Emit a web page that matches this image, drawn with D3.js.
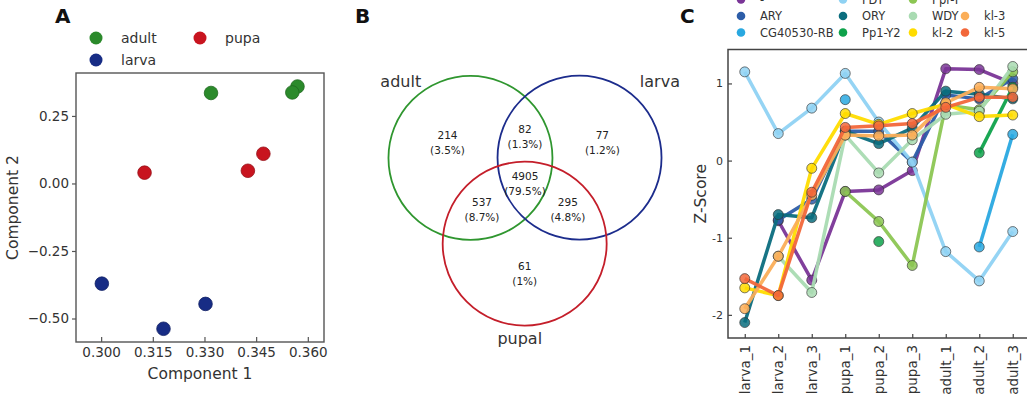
<!DOCTYPE html>
<html>
<head>
<meta charset="utf-8">
<script src="https://cdn.jsdelivr.net/npm/d3@7"></script>
<style>
	body { margin: 0; background: #fff; }
	svg { font-family: 'DejaVu Sans', sans-serif; }
</style>
</head>
<body>
<script>
// ---- Panel A data (PCA)
const pcaGroups = ['adult', 'larva', 'pupa']
const pcaColors = ['#2b8a2b', '#172c85', '#c8141f']
const pcaGroup = ['adult', 'adult', 'adult', 'pupa', 'pupa', 'pupa', 'larva', 'larva', 'larva']
const pcaX = [0.3319, 0.357, 0.3555, 0.3126, 0.3426, 0.3471, 0.3002, 0.3181, 0.3303]
const pcaY = [0.335, 0.359, 0.337, 0.04, 0.047, 0.11, -0.371, -0.538, -0.446]
const pcaXTicks = [0.3, 0.315, 0.33, 0.345, 0.36]
const pcaYTicks = [-0.5, -0.25, 0, 0.25]

// ---- Panel B data (Venn)
const vennSets = ['adult', 'larva', 'pupal']
const vennColors = ['#2f962f', '#1c2c8c', '#c41e2a']
const vennRegions = [[1, 0, 0], [1, 1, 0], [0, 1, 0], [1, 1, 1], [1, 0, 1], [0, 1, 1], [0, 0, 1]]
const vennCounts = [214, 82, 77, 4905, 537, 295, 61]
const vennPercents = ['3.5%', '1.3%', '1.2%', '79.5%', '8.7%', '4.8%', '1%']

// ---- Panel C data (Z-scores)
const stages = ['larva_1', 'larva_2', 'larva_3', 'pupa_1', 'pupa_2', 'pupa_3', 'adult_1', 'adult_2', 'adult_3']
const genes = ['-', 'ARY', 'CG40530-RB', 'FDY', 'ORY', 'Pp1-Y2', 'Ppr-Y', 'WDY', 'kl-2', 'kl-3', 'kl-5']
const geneColors = ['#7a3597', '#2c5da8', '#29a8e0', '#8fd2f3', '#0b6d7e', '#0ea24b', '#8cc653', '#a9dbb2', '#ffdc00', '#fbae58', '#f2673a']
const zDash = [null, -0.78, -1.55, -0.4, -0.38, -0.13, 1.19, 1.18, 1.0]
const zARY = [null, -0.77, -0.5, 0.38, 0.38, -0.02, 0.85, 0.8, 1.06]
const zCG40530 = [null, null, null, 0.79, null, null, null, -1.12, 0.34]
const zFDY = [1.15, 0.35, 0.68, 1.13, 0.5, -0.02, -1.18, -1.56, -0.92]
const zORY = [-2.1, -0.7, -0.74, 0.38, 0.22, 0.42, 0.9, 0.86, 0.8]
const zPp1Y2 = [null, null, null, null, -1.05, null, null, 0.1, 0.95]
const zPprY = [null, null, null, -0.4, -0.79, -1.36, 0.72, 0.66, 1.15]
const zWDY = [null, -1.24, -1.71, 0.33, -0.16, 0.27, 0.6, 0.64, 1.22]
const zKl2 = [-1.65, -1.75, -0.1, 0.61, 0.47, 0.61, 0.73, 0.57, 0.59]
const zKl3 = [-1.92, -1.24, -0.45, 0.33, 0.32, 0.33, 0.75, 0.95, 0.93]
const zKl5 = [-1.53, -1.75, -0.41, 0.43, 0.45, 0.48, 0.69, 0.82, 0.82]
const geneValues = [zDash, zARY, zCG40530, zFDY, zORY, zPp1Y2, zPprY, zWDY, zKl2, zKl3, zKl5]
const zTicks = [-2, -1, 0, 1]

const svg = d3.select('body').append('svg').attr('width', 1027).attr('height', 405)

// panel letters
svg.selectAll('text.letter')
	.data([['A', 55], ['B', 355], ['C', 680]])
	.join('text')
	.attr('x', d => d[1]).attr('y', 23)
	.style('font-size', '20px').style('font-weight', 'bold').style('fill', '#111')
	.text(d => d[0])

/////////////////////////
// Panel A
const a = { left: 76, top: 73, right: 324, bottom: 342 }
const xA = d3.scaleLinear().domain([0.2927, 0.3647]).range([a.left, a.right])
const yA = d3.scaleLinear().domain([-0.587, 0.409]).range([a.bottom, a.top])
const colA = d3.scaleOrdinal().domain(pcaGroups).range(pcaColors)

const gA = svg.append('g')
gA.append('g')
	.attr('transform', `translate(0,${a.bottom})`)
	.call(d3.axisBottom(xA).tickValues(pcaXTicks).tickFormat(d3.format('.3f')).tickSizeInner(-5).tickSizeOuter(0).tickPadding(5))
gA.append('g')
	.attr('transform', `translate(${a.left},0)`)
	.call(d3.axisLeft(yA).tickValues(pcaYTicks).tickFormat(d3.format('.2f')).tickSizeInner(4).tickSizeOuter(0).tickPadding(3))
gA.selectAll('.domain').remove()
gA.selectAll('.tick line').attr('stroke', '#555').attr('stroke-width', 1.2)
gA.selectAll('.tick text').style('font-size', '13.5px').style('font-family', 'DejaVu Sans').attr('fill', '#333')
gA.append('rect')
	.attr('x', a.left).attr('y', a.top)
	.attr('width', a.right - a.left).attr('height', a.bottom - a.top)
	.attr('fill', 'none').attr('stroke', '#555').attr('stroke-width', 1.4)

gA.selectAll('circle.pt')
	.data(pcaX.map((x, i) => ({ x, y: pcaY[i], g: pcaGroup[i] })))
	.join('circle')
	.attr('cx', d => xA(d.x)).attr('cy', d => yA(d.y)).attr('r', 6.8)
	.attr('fill', d => colA(d.g))
	.attr('stroke', d => d3.color(colA(d.g)).darker(0.8)).attr('stroke-width', 0.8)

gA.append('text')
	.attr('x', (a.left + a.right) / 2).attr('y', 379)
	.attr('text-anchor', 'middle').style('font-size', '15.5px').attr('fill', '#333')
	.text('Component 1')
gA.append('text')
	.attr('transform', `translate(18,${(a.top + a.bottom) / 2}) rotate(-90)`)
	.attr('text-anchor', 'middle').style('font-size', '15.5px').attr('fill', '#333')
	.text('Component 2')

// legend A: two columns, column-first order
const legA = gA.selectAll('g.leg')
	.data(['adult', 'larva', 'pupa'])
	.join('g')
	.attr('transform', (d, i) => `translate(${96 + Math.floor(i / 2) * 104},${38 + (i % 2) * 22})`)
legA.append('circle').attr('r', 6.5).attr('fill', d => colA(d))
legA.append('text').attr('x', 25).attr('dy', '0.35em').style('font-size', '14px').attr('fill', '#333').text(d => d)

/////////////////////////
// Panel B (Venn)
const vennCenters = [[-0.665, -0.348], [0.665, -0.352], [-0.004, 0.697]]
const vennLabelPos = [[-0.85, -0.93], [0.98, -0.93], [-0.06, 1.15]]
const ux = d3.scaleLinear().domain([-1, 1]).range([443, 607])
const uy = d3.scaleLinear().domain([-1, 1]).range([104.5, 268.5])
const gB = svg.append('g')

gB.selectAll('circle')
	.data(vennSets)
	.join('circle')
	.attr('cx', (d, i) => ux(vennCenters[i][0])).attr('cy', (d, i) => uy(vennCenters[i][1]))
	.attr('r', ux(1) - ux(0))
	.attr('fill', 'none').attr('stroke', (d, i) => vennColors[i]).attr('stroke-width', 1.8)

gB.selectAll('text.set')
	.data(vennSets)
	.join('text')
	.attr('x', (d, i) => ux(vennCenters[i][0] + vennLabelPos[i][0]))
	.attr('y', (d, i) => uy(vennCenters[i][1] + vennLabelPos[i][1]))
	.attr('dy', '0.35em').attr('text-anchor', 'middle')
	.style('font-size', '16px').attr('fill', '#333')
	.text(d => d)

// region label = centroid of sampled points inside that region
function regionCentroid(mask) {
	let sx = 0, sy = 0, n = 0
	for (let u = -2; u <= 2; u += 0.02) {
		for (let v = -2; v <= 2; v += 0.02) {
			const inside = vennCenters.map(c => ((u - c[0]) ** 2 + (v - c[1]) ** 2 <= 1 ? 1 : 0))
			if (inside.every((m, k) => m === mask[k])) { sx += u; sy += v; n++ }
		}
	}
	return [sx / n, sy / n]
}
const regionLabels = gB.selectAll('g.region')
	.data(vennRegions.map((m, i) => ({ c: regionCentroid(m), n: vennCounts[i], p: vennPercents[i] })))
	.join('g')
	.attr('transform', d => `translate(${ux(d.c[0])},${uy(d.c[1])})`)
regionLabels.append('text').attr('y', -4).attr('text-anchor', 'middle').style('font-size', '10.5px').attr('fill', '#222').text(d => d.n)
regionLabels.append('text').attr('y', 11).attr('text-anchor', 'middle').style('font-size', '10.5px').attr('fill', '#222').text(d => `(${d.p})`)

/////////////////////////
// Panel C
const c = { left: 728, top: 49.5, right: 1029.5, bottom: 338 }
const xC = d3.scalePoint().domain(stages).range([c.left, c.right]).padding(0.5)
const yC = d3.scaleLinear().domain([-2.3, 1.44]).range([c.bottom, c.top])
const gC = svg.append('g')

gC.append('g')
	.attr('transform', `translate(0,${c.bottom})`)
	.call(d3.axisBottom(xC).tickSizeInner(-4).tickSizeOuter(0))
	.selectAll('.tick text')
	.attr('transform', 'rotate(-90)')
	.attr('x', -7).attr('y', 0).attr('dy', '0.35em')
	.style('text-anchor', 'end')
gC.append('g')
	.attr('transform', `translate(${c.left},0)`)
	.call(d3.axisLeft(yC).tickValues(zTicks).tickFormat(d => (d < 0 ? '-' + -d : d)).tickSizeInner(-4).tickSizeOuter(0).tickPadding(5))
gC.selectAll('.domain').remove()
gC.selectAll('.tick line').attr('stroke', '#444').attr('stroke-width', 1.2)
gC.selectAll('.tick text').style('font-family', 'DejaVu Sans').attr('fill', '#333')
gC.selectAll('g.tick text').filter(function () { return this.getAttribute('transform') }).style('font-size', '13.5px')
gC.selectAll('g.tick text').filter(function () { return !this.getAttribute('transform') }).style('font-size', '11px')
gC.append('rect')
	.attr('x', c.left).attr('y', c.top)
	.attr('width', c.right - c.left).attr('height', c.bottom - c.top)
	.attr('fill', 'none').attr('stroke', '#444').attr('stroke-width', 1.5)

gC.append('text')
	.attr('transform', `translate(706,${(c.top + c.bottom) / 2}) rotate(-90)`)
	.attr('text-anchor', 'middle').style('font-size', '15.5px').attr('fill', '#333')
	.text('Z-Score')

const line = d3.line()
	.defined(d => d.v != null)
	.x(d => xC(d.s))
	.y(d => yC(d.v))

const series = genes.map((g, i) => ({
	name: g,
	color: geneColors[i],
	pts: stages.map((s, j) => ({ s, v: geneValues[i][j] }))
}))

const sg = gC.selectAll('g.series').data(series).join('g')
sg.append('path')
	.attr('d', d => line(d.pts))
	.attr('fill', 'none').attr('stroke', d => d.color)
	.attr('stroke-width', 3.5).attr('stroke-linejoin', 'round').attr('stroke-opacity', 0.95)
sg.selectAll('circle')
	.data(d => d.pts.filter(p => p.v != null).map(p => ({ ...p, color: d.color })))
	.join('circle')
	.attr('cx', d => xC(d.s)).attr('cy', d => yC(d.v)).attr('r', 5)
	.attr('fill', d => d.color).attr('fill-opacity', 0.85)
	.attr('stroke', '#333').attr('stroke-width', 0.8).attr('stroke-opacity', 0.8)

// legend C: 4 columns, filled column-first, short last column bottom-aligned
const legColX = [741, 843, 913, 965]
const legRowY = [-0.5, 16, 32.5]
const legC = gC.selectAll('g.leg')
	.data(genes)
	.join('g')
	.attr('transform', (d, i) => {
		const col = Math.min(Math.floor(i / 3), 3)
		const row = col < 3 ? i % 3 : i - 9 + 1
		return `translate(${legColX[col]},${legRowY[row]})`
	})
legC.append('circle').attr('r', 4.3).attr('fill', (d, i) => geneColors[i])
legC.append('text').attr('x', 19).attr('dy', '0.35em').style('font-size', '11.5px').attr('fill', '#333').text(d => d)
</script>
</body>
</html>
